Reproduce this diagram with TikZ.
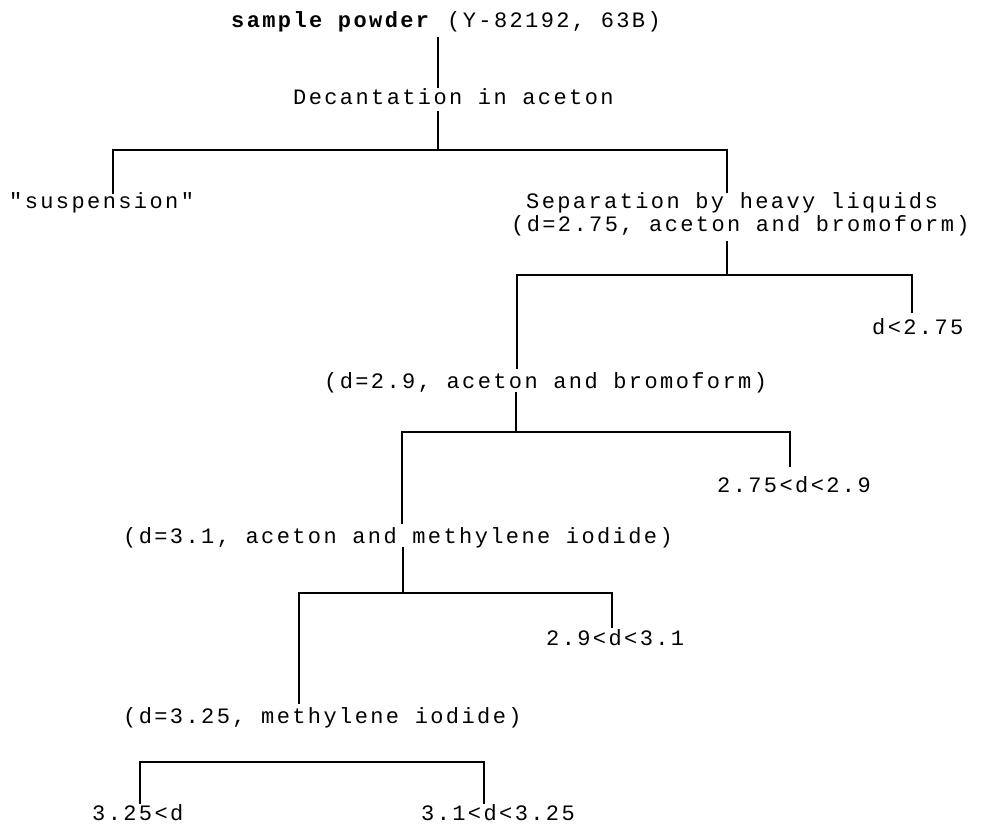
\documentclass[tikz,border=0pt]{standalone}
\usepackage{fontspec}
\newfontfamily\treefont[LetterSpace=10.9]{Liberation Mono}
\begin{document}
\begin{tikzpicture}[x=1pt,y=-1pt,
  lbl/.style={inner sep=0pt,anchor=base west,font=\treefont\fontsize{22}{25}\selectfont},
  link/.style={line width=2.8pt,line cap=rect,line join=miter}]
\fill[white] (0,0) rectangle (981,832);
\useasboundingbox (0,0) rectangle (981,832);
% text nodes
\node[lbl] (sample) at (231,28) {\textbf{sample powder} (Y-82192, 63B)};
\node[lbl] (decant) at (293,105) {Decantation in aceton};
\node[lbl] (susp) at (9,208) {"suspension"};
\node[lbl] (sep) at (526,208) {Separation by heavy liquids};
\node[lbl] (sepb) at (511,231) {(d=2.75, aceton and bromoform)};
\node[lbl] (lt275) at (872,334) {d<2.75};
\node[lbl] (d29) at (324,388) {(d=2.9, aceton and bromoform)};
\node[lbl] (r275) at (717,492) {2.75<d<2.9};
\node[lbl] (d31) at (123,543) {(d=3.1, aceton and methylene iodide)};
\node[lbl] (r29) at (546,645) {2.9<d<3.1};
\node[lbl] (d325) at (123,723) {(d=3.25, methylene iodide)};
\node[lbl] (gt325) at (92,820) {3.25<d};
\node[lbl] (r31) at (421,820) {3.1<d<3.25};
% junction coordinates
\coordinate (a1) at (438,38);  \coordinate (a2) at (438,87);
\coordinate (b1) at (438,112); \coordinate (b2) at (438,150);
\coordinate (bl) at (113,150); \coordinate (bl2) at (113,193);
\coordinate (br) at (727,150); \coordinate (br2) at (727,192);
\coordinate (c1) at (727,242); \coordinate (c2) at (727,275);
\coordinate (cl) at (517,275); \coordinate (cl2) at (517,368);
\coordinate (cr) at (912,275); \coordinate (cr2) at (912,312);
\coordinate (e1) at (516,393); \coordinate (e2) at (516,432);
\coordinate (el) at (402,432); \coordinate (el2) at (402,523);
\coordinate (er) at (790,432); \coordinate (er2) at (790,466);
\coordinate (f1) at (403,548); \coordinate (f2) at (403,593);
\coordinate (fl) at (299,593); \coordinate (fl2) at (299,703);
\coordinate (fr) at (612,593); \coordinate (fr2) at (612,627);
\coordinate (gl) at (140,762); \coordinate (gl2) at (140,803);
\coordinate (gr) at (484,762); \coordinate (gr2) at (484,803);
% connectors
\draw[link] (a1) -- (a2);
\draw[link] (b1) -- (b2);
\draw[link] (bl2) -- (bl) -- (br) -- (br2);
\draw[link] (c1) -- (c2);
\draw[link] (cl2) -- (cl) -- (cr) -- (cr2);
\draw[link] (e1) -- (e2);
\draw[link] (el2) -- (el) -- (er) -- (er2);
\draw[link] (f1) -- (f2);
\draw[link] (fl2) -- (fl) -- (fr) -- (fr2);
\draw[link] (gl2) -- (gl) -- (gr) -- (gr2);
\end{tikzpicture}
\end{document}
